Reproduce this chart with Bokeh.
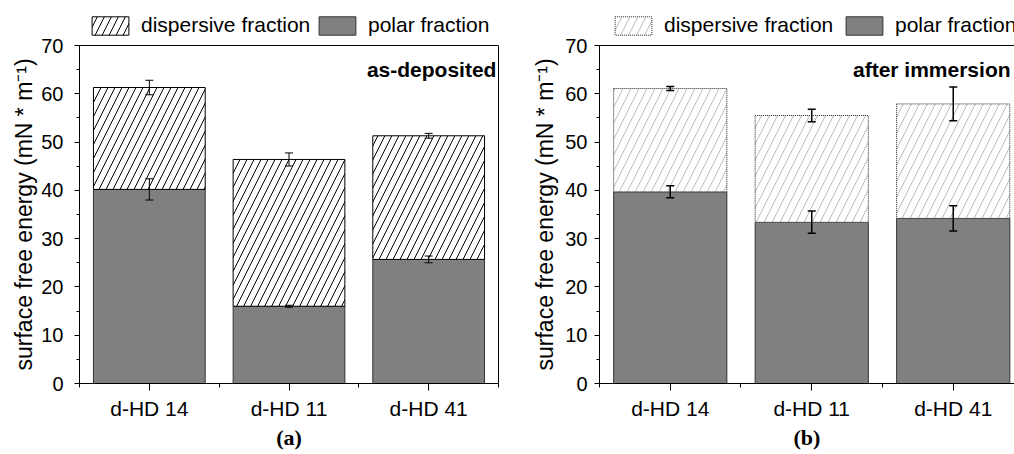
import numpy as np
from bokeh.plotting import figure
from bokeh.models import (ColumnDataSource, Range1d, FixedTicker, SingleIntervalTicker,
                          Whisker, TeeHead, Legend, LegendItem, Label, Span, LinearAxis, Title)
from bokeh.layouts import row
from bokeh.embed import file_html
from bokeh.resources import INLINE

# ---------------- data ----------------
categories = ["d-HD 14", "d-HD 11", "d-HD 41"]

a_polar = [40.2, 16.0, 25.7]
a_polar_err = [2.2, 0.2, 0.7]
a_dispersive = [21.1, 30.4, 25.6]
a_total_err = [1.5, 1.35, 0.5]

b_polar = [39.7, 33.4, 34.2]
b_polar_err = [1.25, 2.3, 2.6]
b_dispersive = [21.4, 22.1, 23.7]
b_total_err = [0.4, 1.3, 3.5]

y_max = 70
legend_labels = ["dispersive fraction", "polar fraction"]
panel_titles = ["as-deposited", "after immersion"]
panel_tags = ["(a)", "(b)"]
y_label = "surface free energy (mN * m\u207b\u00b9)"

FONT = "Liberation Sans"
SERIF = "Liberation Serif"

H = 454
TOP = 6          # frame top (legend lives inside frame above the axis box)
BOX_TOP = 45     # pixel row of y = 70
BOTTOM = 71
frame_h = H - TOP - BOTTOM
y_end = y_max * frame_h / (H - BOTTOM - BOX_TOP)


def make_panel(polar, polar_err, disp, total_err, tag, title, width, bl, br,
               x_end, style, leg_x, title_x, label_standoff, tick_standoff, right_border):
    xs = np.arange(len(categories)) + 0.5
    polar = np.array(polar)
    total = polar + np.array(disp)
    p = figure(width=width, height=H, title=None,
               x_range=Range1d(0, x_end), y_range=Range1d(0, y_end),
               output_backend="svg", toolbar_location=None,
               min_border_left=bl, min_border_right=br,
               min_border_top=TOP, min_border_bottom=BOTTOM)
    p.background_fill_color = "white"
    p.border_fill_color = "white"
    p.outline_line_color = None
    p.xgrid.visible = False
    p.ygrid.visible = False

    src = ColumnDataSource(dict(x=xs, polar=polar, total=total))
    r_pol = p.vbar(x="x", width=0.8, bottom=0, top="polar", source=src,
                   fill_color="#808080", line_color="#333333", line_width=1)
    if style == "a":
        r_disp = p.vbar(x="x", width=0.8, bottom="polar", top="total", source=src,
                        fill_color="white", line_color="black", line_width=1,
                        hatch_pattern="/", hatch_color="black", hatch_scale=14,
                        hatch_weight=1)
    else:
        r_disp = p.vbar(x="x", width=0.8, bottom="polar", top="total", source=src,
                        fill_color="white", line_color="#222222", line_width=1,
                        line_dash="1 1",
                        hatch_pattern="/", hatch_color="#a8a8a8", hatch_scale=16,
                        hatch_weight=0.8)

    lw = 1 if style == "a" else 1.5
    err_src = ColumnDataSource(dict(
        x=np.concatenate([xs, xs]),
        lower=np.concatenate([polar - np.array(polar_err), total - np.array(total_err)]),
        upper=np.concatenate([polar + np.array(polar_err), total + np.array(total_err)])))
    w = Whisker(source=err_src, base="x", lower="lower", upper="upper",
                line_color="black", line_width=lw, level="overlay",
                upper_head=TeeHead(size=8, line_color="black", line_width=lw),
                lower_head=TeeHead(size=8, line_color="black", line_width=lw))
    p.add_layout(w)

    # box top line at y = 70
    p.add_layout(Span(location=y_max, dimension="width", line_color="black", line_width=1))
    if right_border:
        rax = LinearAxis(bounds=(0, y_max), ticker=FixedTicker(ticks=[]),
                         major_tick_out=0, major_tick_in=0, minor_tick_out=0,
                         minor_tick_in=0, major_label_standoff=0,
                         major_label_text_font_size="0px", axis_line_color="black")
        p.add_layout(rax, "right")

    # axes
    yax = p.yaxis[0]
    yax.bounds = (0, y_max)
    yax.ticker = SingleIntervalTicker(interval=10, num_minor_ticks=2)
    yax.major_label_text_font = FONT
    yax.major_label_text_font_size = "20px"
    yax.major_label_standoff = tick_standoff
    yax.major_tick_out = 5
    yax.major_tick_in = 0
    yax.minor_tick_out = 3
    yax.minor_tick_in = 0
    yax.axis_line_color = "black"
    yax.major_tick_line_color = "black"
    yax.minor_tick_line_color = "black"
    yax.major_label_text_color = "black"

    # y-axis title, placed along the 0..70 box
    p.add_layout(Title(text=y_label, align="left", offset=13,
                       text_font=FONT, text_font_style="normal", text_font_size="23px",
                       text_color="black", standoff=label_standoff), "left")

    xax = p.xaxis[0]
    xax.ticker = FixedTicker(ticks=list(xs), minor_ticks=list(range(len(categories) + 1)))
    xax.major_label_overrides = {float(x): c for x, c in zip(xs, categories)}
    xax.major_label_text_font = FONT
    xax.major_label_text_font_size = "21px"
    xax.major_label_standoff = 6
    xax.major_tick_out = 7
    xax.major_tick_in = 0
    xax.minor_tick_out = 4
    xax.minor_tick_in = 0
    xax.axis_line_color = "black"
    xax.major_tick_line_color = "black"
    xax.minor_tick_line_color = "black"
    xax.major_label_text_color = "black"
    xax.axis_label = tag
    xax.axis_label_text_font = SERIF
    xax.axis_label_text_font_style = "bold"
    xax.axis_label_text_font_size = "22px"
    xax.axis_label_text_color = "black"
    xax.axis_label_standoff = 2

    # legend inside the (extended) frame, above the box
    common = dict(orientation="horizontal", padding=0, margin=0, glyph_width=46,
                  glyph_height=23, label_height=23, label_standoff=8, spacing=0,
                  border_line_color=None, background_fill_alpha=0,
                  label_text_font=FONT, label_text_font_size="21px",
                  label_text_color="black")
    ly = H - BOTTOM - 37
    lg1 = Legend(items=[LegendItem(label=legend_labels[0], renderers=[r_disp])],
                 location=(leg_x[0], ly), **common)
    lg2 = Legend(items=[LegendItem(label=legend_labels[1], renderers=[r_pol])],
                 location=(leg_x[1], ly), **common)
    p.add_layout(lg1)
    p.add_layout(lg2)

    p.add_layout(Label(x=title_x, y=65.0, text=title, text_align="right",
                       text_baseline="middle", text_font=FONT, text_font_style="bold",
                       text_font_size="21px", text_color="black"))
    return p


pa = make_panel(a_polar, a_polar_err, a_dispersive, a_total_err, panel_tags[0],
                panel_titles[0], 510, 79, 12, 3.0, "a", (8, 235), 2.985, 3, 11, True)
pb = make_panel(b_polar, b_polar_err, b_dispersive, b_total_err, panel_tags[1],
                panel_titles[1], 504, 89, 0, 2.933, "b", (11, 242), 2.905, 10, 7, False)

layout = row(pa, pb, spacing=0)
open("out.html", "w").write(file_html(layout, INLINE))
